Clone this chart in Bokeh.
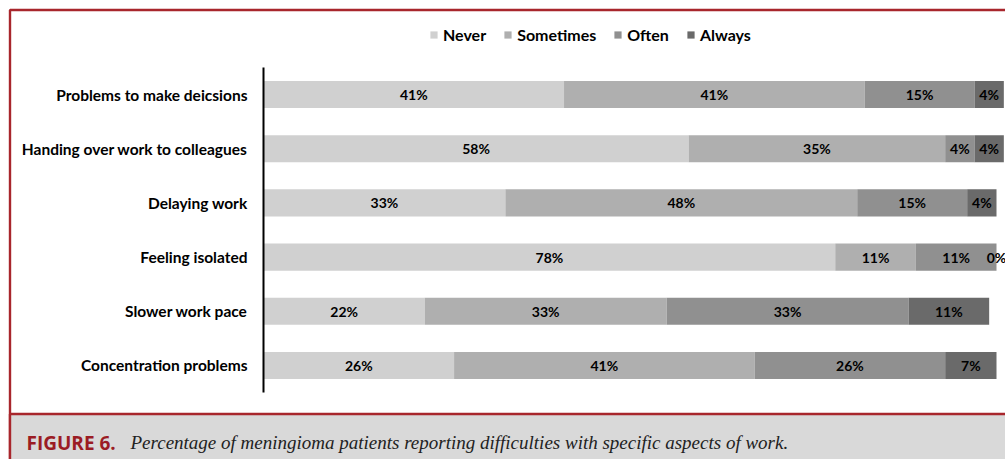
from bokeh.plotting import figure
from bokeh.models import (ColumnDataSource, FactorRange, Range1d, Legend, LegendItem,
                          Label, BoxAnnotation)
from bokeh.core.properties import value
from bokeh.embed import file_html
from bokeh.resources import INLINE

categories = [
    "Problems to make deicsions",
    "Handing over work to colleagues",
    "Delaying work",
    "Feeling isolated",
    "Slower work pace",
    "Concentration problems",
]
series = ["Never", "Sometimes", "Often", "Always"]
never = [41, 58, 33, 78, 22, 26]
sometimes = [41, 35, 48, 11, 33, 41]
often = [15, 4, 15, 11, 33, 26]
always = [4, 4, 4, 0, 11, 7]
colors = ["#d0d0d0", "#afafaf", "#909090", "#6a6a6a"]

caption_head = "FIGURE 6."
caption_text = "Percentage of meningioma patients reporting difficulties with specific aspects of work."

# layout constants (pixels)
W, H = 1005, 459
ZERO_PX = 263          # where 0% sits
PX_PER_PCT = 7.33      # pixels per percentage point
LABEL_FONT = "Lato"
red = "#a8262c"

data = {"cat": categories, "Never": never, "Sometimes": sometimes, "Often": often, "Always": always}
source = ColumnDataSource(data)

p = figure(width=W, height=H, output_backend="svg", toolbar_location=None,
           y_range=FactorRange(factors=list(reversed(categories)),
                               range_padding=1.235, range_padding_units="absolute"),
           x_range=Range1d(-ZERO_PX / PX_PER_PCT, (W - ZERO_PX) / PX_PER_PCT),
           x_axis_location=None, y_axis_location=None,
           min_border=0, min_border_left=0, min_border_right=0,
           min_border_top=0, min_border_bottom=0)
p.outline_line_color = None
p.grid.visible = False

# outer frame and caption box (canvas pixels)
p.add_layout(BoxAnnotation(left=9.5, right=1300, top=9.5, bottom=700,
                           left_units="canvas", right_units="canvas", top_units="canvas", bottom_units="canvas",
                           fill_alpha=0, line_color=red, line_alpha=1, line_width=2.4, level="underlay"))
p.add_layout(BoxAnnotation(left=9.5, right=1300, top=413.5, bottom=700,
                           left_units="canvas", right_units="canvas", top_units="canvas", bottom_units="canvas",
                           fill_color="#d9d9d9", fill_alpha=1, line_color=red, line_alpha=1,
                           line_width=2.4, level="underlay"))

rs = p.hbar_stack(series, y="cat", height=0.5, color=colors, line_color=None, source=source)

# category labels, right-aligned left of the axis line
p.text(x=[-16 / PX_PER_PCT] * len(categories), y=categories, text=categories,
       text_align="right", text_baseline="middle", text_font=value(LABEL_FONT),
       text_font_style="bold", text_font_size="15.5px", text_color="#000000")

# axis line
p.segment(x0=[0], x1=[0], y0=[(categories[0], 0.5)], y1=[(categories[-1], -0.5)],
          line_color="black", line_width=2)

# segment labels
lab_x, lab_y, lab_t = [], [], []
for i, c in enumerate(categories):
    left = 0
    for s in series:
        v = data[s][i]
        lab_x.append(left + v / 2)
        lab_y.append(c)
        lab_t.append(f"{v}%")
        left += v
p.text(x=lab_x, y=lab_y, text=lab_t, text_align="center", text_baseline="middle",
       text_font=value(LABEL_FONT), text_font_style="bold", text_font_size="14px",
       text_color="#000000")

legend = Legend(items=[LegendItem(label=s, renderers=[r]) for s, r in zip(series, rs)],
                orientation="horizontal", location=(429, 415), padding=0, margin=0,
                spacing=17, glyph_width=9, glyph_height=9, label_standoff=5,
                border_line_color=None, background_fill_alpha=0,
                label_text_font=LABEL_FONT, label_text_font_style="bold",
                label_text_font_size="16px", label_text_color="#000000")
p.add_layout(legend, "center")

p.add_layout(Label(x=26, y=17, x_units="screen", y_units="screen", text=caption_head,
                   text_font="Open Sans", text_font_style="bold", text_font_size="19px",
                   text_color="#9b1c24", text_baseline="alphabetic"))
p.add_layout(Label(x=130, y=17, x_units="screen", y_units="screen", text=caption_text,
                   text_font="Liberation Serif", text_font_style="italic", text_font_size="19px",
                   text_color="#222222", text_baseline="alphabetic"))

open("out.html", "w").write(file_html(p, INLINE))
